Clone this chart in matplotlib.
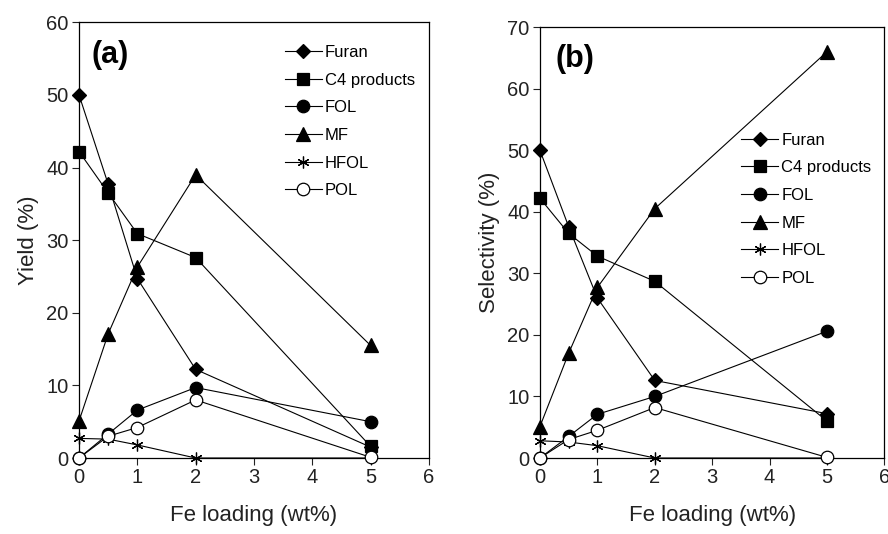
import matplotlib; matplotlib.use("Agg")
import matplotlib.pyplot as plt

plt.rcParams['font.family'] = ['Liberation Sans', 'DejaVu Sans']

# Fe loading (wt%)
fe = [0, 0.5, 1, 2, 5]

# (a) yield (%)
yield_furan = [50.0, 37.7, 24.7, 12.2, 1.5]
yield_c4    = [42.2, 36.5, 30.9, 27.6, 1.6]
yield_fol   = [0.0, 3.3, 6.6, 9.7, 5.0]
yield_mf    = [5.1, 17.1, 26.3, 39.0, 15.5]
yield_hfol  = [2.7, 2.6, 1.8, 0.0, 0.0]
yield_pol   = [0.0, 3.0, 4.2, 8.0, 0.1]

# (b) selectivity (%)
sel_furan = [50.0, 37.6, 26.0, 12.6, 7.2]
sel_c4    = [42.2, 36.5, 32.8, 28.7, 6.0]
sel_fol   = [0.0, 3.5, 7.1, 10.0, 20.6]
sel_mf    = [5.1, 17.0, 27.7, 40.5, 66.0]
sel_hfol  = [2.8, 2.6, 2.0, 0.0, 0.0]
sel_pol   = [0.0, 3.0, 4.5, 8.2, 0.1]

labels = ['Furan', 'C4 products', 'FOL', 'MF', 'HFOL', 'POL']
# marker, size, face
styles = [('D', 7, 'black'), ('s', 9, 'black'), ('o', 9, 'black'),
          ('^', 9.5, 'black'), ('x', 8.5, 'black'), ('o', 9, 'white')]

fig = plt.figure(figsize=(8.88, 5.34), dpi=100)
axA = fig.add_axes([0.089, 0.1423, 0.394, 0.816])
axB = fig.add_axes([0.608, 0.1423, 0.388, 0.807])


def draw(ax, series, ymax, ylabel, tag, tag_x, leg_anchor):
    for vals, lab, (m, ms, fc) in zip(series, labels, styles):
        if m == 'x':
            ax.plot(fe, vals, '-', color='black', lw=0.8, marker=(6, 2, 0), ms=ms,
                    mew=0.9, label=lab, clip_on=False, zorder=3)
        else:
            ax.plot(fe, vals, '-', color='black', lw=0.8, marker=m, ms=ms,
                    mfc=fc, mec='black', mew=0.9, label=lab, clip_on=False, zorder=3)
    ax.set_xlim(0, 6)
    ax.set_ylim(0, ymax)
    ax.set_xticks(range(0, 7))
    ax.set_yticks(range(0, ymax + 1, 10))
    ax.tick_params(direction='out', length=5, width=0.8, labelsize=14.5, pad=2.5,
                   colors='#222222')
    for s in ax.spines.values():
        s.set_linewidth(0.9)
    ax.set_xlabel('Fe loading (wt%)', fontsize=16, color='#222222', labelpad=13)
    ax.set_ylabel(ylabel, fontsize=16, color='#222222', labelpad=5)
    ax.text(tag_x, 0.96, tag, transform=ax.transAxes, fontsize=22, fontweight='bold',
            va='top', ha='left')
    ax.legend(loc='upper left', bbox_to_anchor=leg_anchor, frameon=False, fontsize=12,
              handlelength=2.2, handletextpad=0.2, labelspacing=0.76, borderpad=0,
              borderaxespad=0)


draw(axA, [yield_furan, yield_c4, yield_fol, yield_mf, yield_hfol, yield_pol],
     60, 'Yield (%)', '(a)', 0.035, (0.589, 0.948))
draw(axB, [sel_furan, sel_c4, sel_fol, sel_mf, sel_hfol, sel_pol],
     70, 'Selectivity (%)', '(b)', 0.045, (0.585, 0.755))

fig.savefig('out.png', dpi=100)
